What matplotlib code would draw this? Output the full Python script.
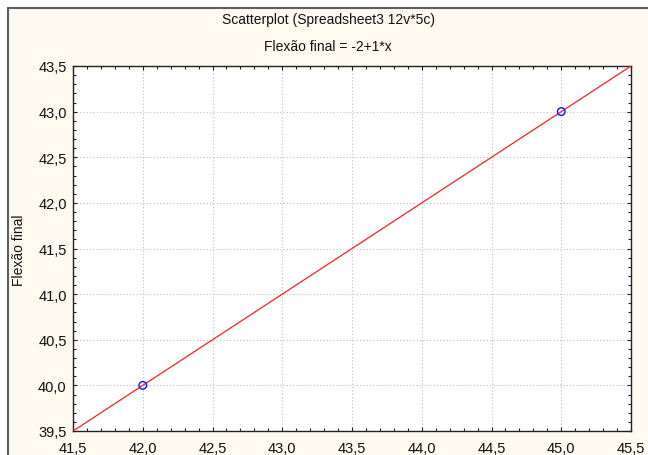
import matplotlib
matplotlib.use("Agg")
import matplotlib.pyplot as plt
import numpy as np
from matplotlib.ticker import MultipleLocator, FuncFormatter
from matplotlib.patches import Rectangle

plt.rcParams['font.family'] = ['Liberation Sans', 'DejaVu Sans']

# Data
x_points = [42.0, 45.0]
y_points = [40.0, 43.0]
intercept = -2.0
slope = 1.0
x_range = [41.5, 45.5]
y_range = [39.5, 43.5]
title = "Scatterplot (Spreadsheet3 12v*5c)"
subtitle = "Flexão final = -2+1*x"
ylabel = "Flexão final"

W, H = 648, 456
fig = plt.figure(figsize=(W/100, H/100), dpi=100)
fig.patch.set_facecolor('white')

# outer frame
fig.patches.append(Rectangle((8/W, -0.05), 1.1, (H-9)/H + 0.05, transform=fig.transFigure,
                             facecolor='#fffaf0', edgecolor='#5e5e5e', linewidth=1.5, zorder=-10))

ax = fig.add_axes([73/W, (H-432)/H, (631-73)/W, (432-67)/H])
ax.set_facecolor('white')

xl = np.array(x_range)
ax.plot(xl, intercept + slope*xl, color='#ff2020', lw=0.9, zorder=3)
ax.scatter(x_points, y_points, s=30, facecolors='none', edgecolors='#1010ff', linewidths=1.0, zorder=4)

ax.set_xlim(*x_range)
ax.set_ylim(*y_range)
fmt = FuncFormatter(lambda v, p: f"{v:.1f}".replace('.', ','))
ax.xaxis.set_major_locator(MultipleLocator(0.5))
ax.yaxis.set_major_locator(MultipleLocator(0.5))
ax.xaxis.set_minor_locator(MultipleLocator(0.1))
ax.yaxis.set_minor_locator(MultipleLocator(0.1))
ax.xaxis.set_major_formatter(fmt)
ax.yaxis.set_major_formatter(fmt)
ax.tick_params(which='both', direction='in', top=True, right=True, color='#222222')
ax.tick_params(which='major', length=3, width=0.8, labelsize=10.5, labelcolor='#111111')
ax.tick_params(axis='x', which='major', pad=7.5)
ax.tick_params(axis='y', which='major', pad=4.5)
ax.tick_params(which='minor', length=2.5, width=0.8)
ax.grid(True, which='major', linestyle=(0, (1, 2)), color='#bdbdbd', lw=0.8)
for s in ax.spines.values():
    s.set_color('#222222')
    s.set_linewidth(1.0)

fig.text(328/W, 1 - 20/H, title, ha='center', va='center', fontsize=10, color='#111111')
fig.text(328/W, 1 - 47/H, subtitle, ha='center', va='center', fontsize=10, color='#111111')
fig.text(19/W, 1 - 250/H, ylabel, ha='center', va='center', rotation=90, fontsize=10, color='#111111')

fig.savefig('out.png', dpi=100)
